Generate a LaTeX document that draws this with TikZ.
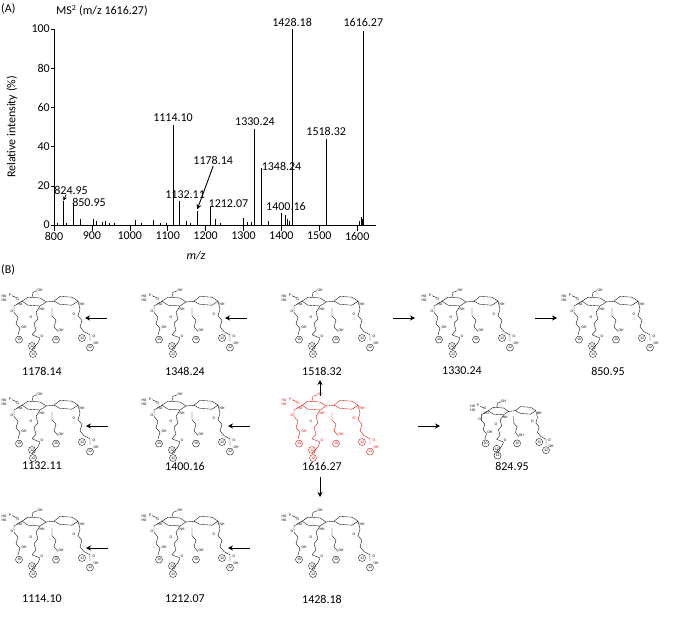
\documentclass[tikz,border=0pt]{standalone}
\usepackage{fontspec}
\setmainfont{Carlito}
\usetikzlibrary{arrows.meta}
\tikzset{
  lbl/.style={font=\fontsize{12}{13}\selectfont,inner sep=1pt},
  tiny/.style={font=\fontsize{3.8}{4}\selectfont,inner sep=0.3pt},
  cnum/.style={circle,draw,inner sep=0.2pt,minimum size=7pt,font=\fontsize{3.8}{4}\selectfont},
  rxn/.style={-{Stealth[length=5pt,width=5pt]},line width=0.9pt},
  pk/.style={line width=1pt},
  pics/glyco/.style={code={
    \begin{scope}[line width=0.35pt,yscale=0.8]
    \node[tiny] at (-46,-2) {HO};
    \node[tiny] at (-40,-4) {P};
    \node[tiny] at (-46,3) {HO};
    \draw (-38,-3)--(-33,0);
    \node[tiny] at (-32,1) {O};
    \draw (-28,4)--(-22,-1)--(-10,0)--(-4,5)--(-10,10)--(-22,9)--cycle;
    \draw (-18,-1)--(-17,-7)--(-13,-9);
    \node[tiny] at (-10,-10) {OH};
    \draw (-4,5)--(4,4);
    \draw (4,4)--(10,-2)--(22,-1)--(28,4)--(22,9)--(10,8)--cycle;
    \node[tiny] at (32,8) {NH};
    \node[tiny] at (-8,14) {NH};
    \node[tiny] at (-30,8) {HO};
    \draw (-28,4)--(-36,10)--(-36,18)--(-32,24)--(-34,32)--(-30,38)--(-32,46);
    \node[tiny] at (-38,16) {O};
    \node[tiny] at (-26,36) {OH};
    \node[cnum] at (-31,52) {10};
    \draw (-10,10)--(-14,18)--(-12,26)--(-16,32)--(-14,40)--(-18,46);
    \node[tiny] at (-19,24) {O};
    \draw (-18,46)--(-10,50)--(-12,56);
    \node[tiny] at (-8,48) {O};
    \node[cnum] at (-18,60) {12};
    \draw (-12,56)--(-18,64);
    \node[cnum] at (-17,70) {12};
    \draw (2,12)--(2,22)--(6,28)--(4,36)--(8,42);
    \node[tiny] at (11,40) {OH};
    \node[cnum] at (6,52) {10};
    \draw (28,4)--(30,14)--(28,22)--(32,28)--(30,36)--(34,42);
    \node[tiny] at (24,20) {O};
    \draw (34,42)--(40,46)--(40,54);
    \node[tiny] at (44,48) {O};
    \node[tiny] at (46,56) {OH};
    \node[cnum] at (32,50) {12};
    \node[cnum] at (40,62) {12};
    \end{scope}
  }},
}
\begin{document}
\begin{tikzpicture}[x=1pt,y=-1pt]
\useasboundingbox (0,0) rectangle (675,632);
\node[lbl,anchor=west] at (0,9) {(A)};
\node[lbl,anchor=west] at (55,11) {MS\textsuperscript{2} (m/z 1616.27)};
\node[lbl,rotate=90] at (12,127) {Relative intensity (\%)};
\node[lbl,font=\fontsize{12}{13}\selectfont\itshape] at (196,256) {m/z};
\begin{scope}[xshift=54pt,yshift=-225pt,x=0.379pt,y=1.96pt]
  \draw[line width=0.8pt] (0,100)--(0,0)--(850,0);
  \foreach \v in {0,20,...,100}{
    \draw[line width=0.6pt] (0,\v)--(-8,\v);
    \node[lbl,anchor=east] at (-8,\v) {\v};}
  \foreach \v in {800,900,...,1600}{
    \draw[line width=0.6pt] (\v-800,0)--(\v-800,-3);
    \node[lbl,anchor=north] at (\v-800,-3) {\v};}
  \foreach \m/\h in {810/1,833/1,870/3,905/3,912/2,928/1.5,935/2,945/1,960/1,1015/2.5,1030/1,1062/2.5,1080/1,1095/1,1150/2,1160/1,1225/3,1240/1,1300/3.5,1310/1.5,1320/1.5,1365/2,1410/5,1415/3,1420/2,1605/2,1610/4,1613/3}
    \draw[line width=0.6pt] (\m-800,0)--(\m-800,\h);
  \foreach \m/\h in {824.95/12,850.95/11,1114.10/51,1132.11/12,1178.14/7,1212.07/9,1330.24/49,1348.24/29,1400.16/6,1428.18/100,1518.32/44,1616.27/99}
    \draw[pk] (\m-800,0)--(\m-800,\h);
  \node[lbl,anchor=south] (l1) at (45,15) {824.95};
  \node[lbl,anchor=west] at (45,11.5) {850.95};
  \node[lbl,anchor=south] at (314.1,52) {1114.10};
  \node[lbl,anchor=south] at (346,13) {1132.11};
  \node[lbl,anchor=south] (l2) at (420,30) {1178.14};
  \node[lbl,anchor=west] at (405,11) {1212.07};
  \node[lbl,anchor=south] at (530.24,50) {1330.24};
  \node[lbl,anchor=west] at (545,30) {1348.24};
  \node[lbl,anchor=south] at (612,6.5) {1400.16};
  \node[lbl,anchor=south] at (628.18,100.5) {1428.18};
  \node[lbl,anchor=south] at (718.32,45) {1518.32};
  \node[lbl,anchor=south] at (816.27,100.5) {1616.27};
  \coordinate (f1) at (32,15.5);
  \coordinate (t1) at (24.95,12.5);
  \coordinate (t2) at (378,8);
  \draw[rxn,line width=0.7pt,-{Stealth[length=4pt,width=4pt]}] (f1)--(t1);
  \draw[rxn] (l2.south)--(t2);
\end{scope}
\node[lbl,anchor=west] at (0,270) {(B)};
\pic at (50,298) {glyco};
\pic at (190,298) {glyco};
\pic at (330,298) {glyco};
\pic at (470,298) {glyco};
\pic at (610,298) {glyco};
\pic at (50,402) {glyco};
\pic at (190,402) {glyco};
\pic[red!85!black,text=red!85!black] at (330,402) {glyco};
\pic[scale=0.85] at (512,408) {glyco};
\pic at (50,518) {glyco};
\pic at (190,518) {glyco};
\pic at (330,518) {glyco};
\node[lbl] (s1) at (42,371) {1178.14};
\node[lbl] (s2) at (185,371) {1348.24};
\node[lbl] (s3) at (322,371) {1518.32};
\node[lbl] (s4) at (462,371) {1330.24};
\node[lbl] (s5) at (608,371) {850.95};
\node[lbl] (s6) at (42,466) {1132.11};
\node[lbl] (s7) at (185,466) {1400.16};
\node[lbl] (s8) at (322,466) {1616.27};
\node[lbl] (s9) at (512,466) {824.95};
\node[lbl] (s10) at (42,599) {1114.10};
\node[lbl] (s11) at (185,599) {1212.07};
\node[lbl] (s12) at (322,599) {1428.18};
\coordinate (a1) at (107,318); \coordinate (b1) at (85,318);
\coordinate (a2) at (247,318); \coordinate (b2) at (225,318);
\coordinate (a3) at (393,318); \coordinate (b3) at (415,318);
\coordinate (a4) at (535,318); \coordinate (b4) at (557,318);
\coordinate (a5) at (108,426); \coordinate (b5) at (86,426);
\coordinate (a6) at (250,426); \coordinate (b6) at (228,426);
\coordinate (a7) at (418,426); \coordinate (b7) at (440,426);
\coordinate (a8) at (108,548); \coordinate (b8) at (86,548);
\coordinate (a9) at (250,548); \coordinate (b9) at (228,548);
\foreach \i in {1,...,9} \draw[rxn] (a\i)--(b\i);
\coordinate (u1) at (320,396); \coordinate (u2) at (320,380);
\draw[rxn] (u1)--(u2);
\coordinate (d1) at (320,477); \coordinate (d2) at (320,497);
\draw[rxn] (d1)--(d2);
\end{tikzpicture}
\end{document}
